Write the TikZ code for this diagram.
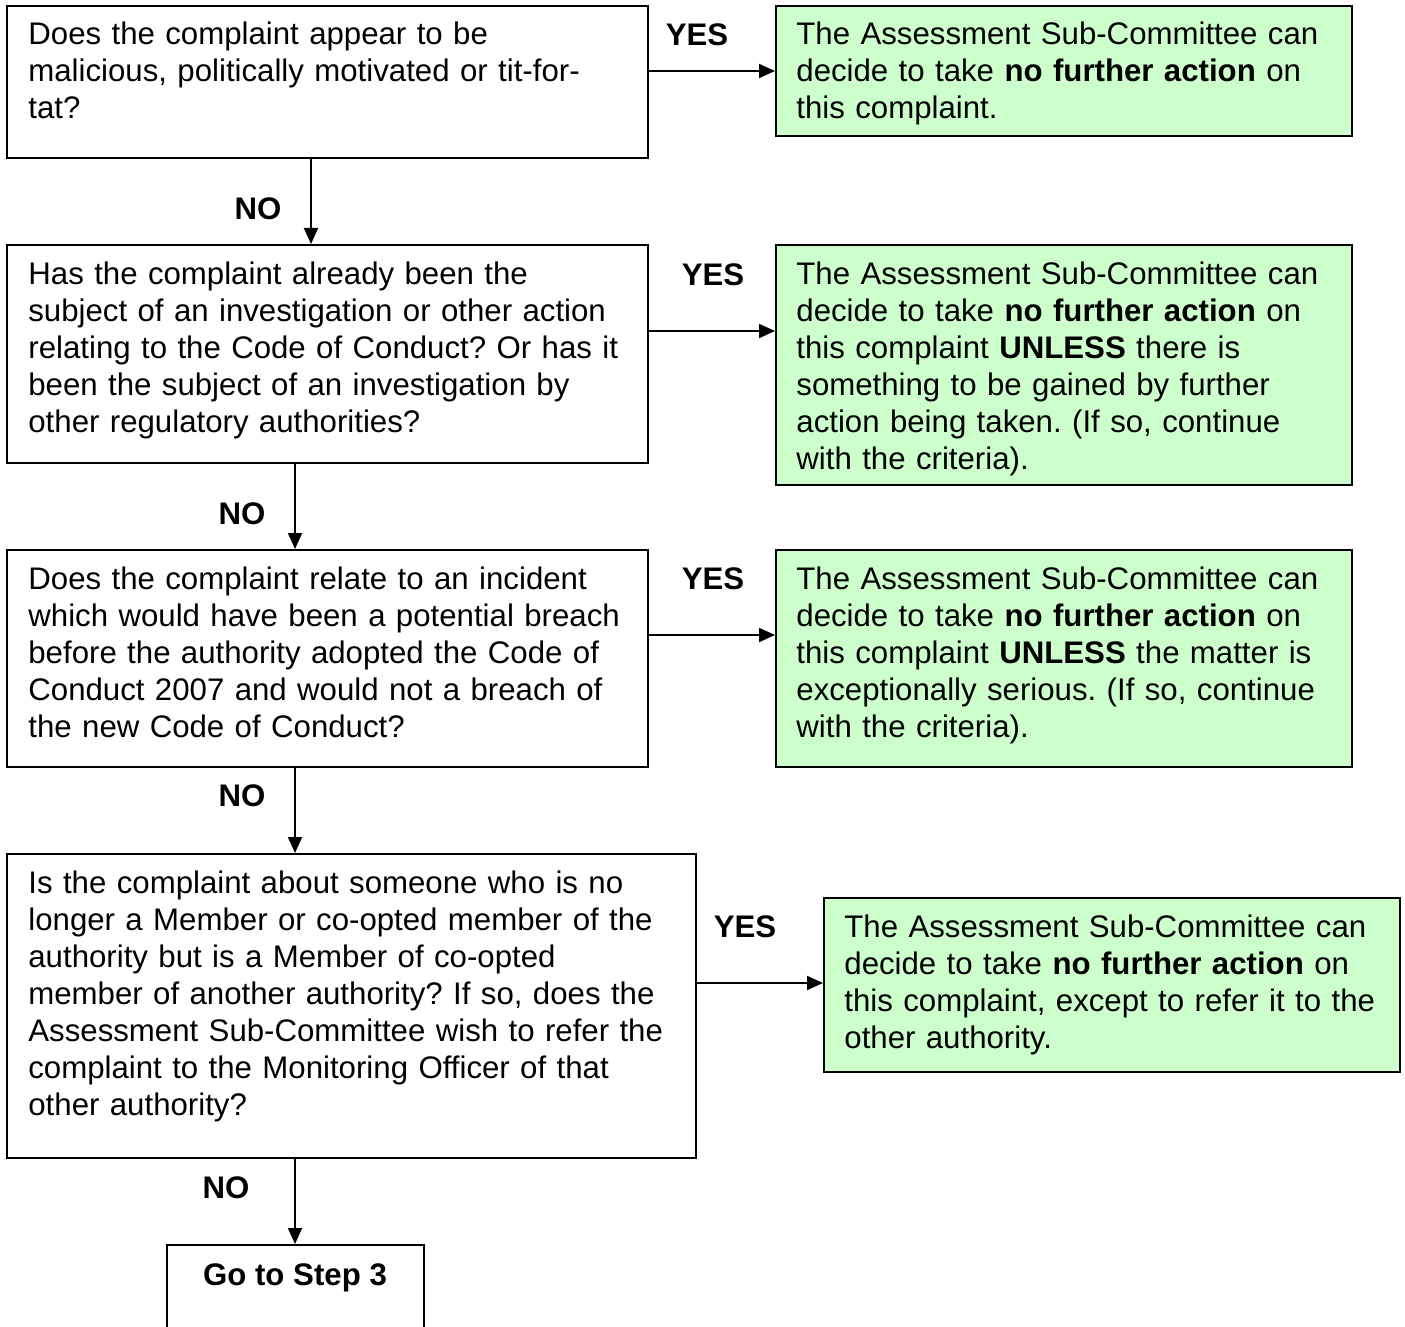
\documentclass[tikz,border=0pt]{standalone}
\usepackage{fontspec}
\setmainfont{Liberation Sans}
\usetikzlibrary{arrows.meta}
\definecolor{paleg}{HTML}{CCFFCC}
\frenchspacing
\begin{document}
\begin{tikzpicture}[x=0.5pt,y=-0.5pt,
  qbox/.style={draw=black,line width=1pt,fill=white,anchor=north west,inner sep=0pt},
  gbox/.style={draw=black,line width=1pt,fill=paleg,anchor=north west,inner sep=0pt},
  txt/.style={anchor=base west,inner sep=0pt,align=left,text width=#1,font=\fontsize{15.6pt}{18.5pt}\selectfont},
  lbl/.style={inner sep=0pt,font=\fontsize{15.6pt}{18.5pt}\selectfont\bfseries},
  arr/.style={line width=1pt,-{Triangle[length=8pt,width=7pt]}}]
\useasboundingbox (0,0) rectangle (1405,1327);
% question boxes
\node[qbox,minimum width=320.5pt,minimum height=76pt] (q1) at (6,5) {};
\node[qbox,minimum width=320.5pt,minimum height=109pt] (q2) at (6,244) {};
\node[qbox,minimum width=320.5pt,minimum height=108.5pt] (q3) at (6,549) {};
\node[qbox,minimum width=344.5pt,minimum height=152pt] (q4) at (6,853) {};
\node[qbox,minimum width=128.5pt,minimum height=50pt] (s3) at (166,1244) {};
% green boxes
\node[gbox,minimum width=288pt,minimum height=65pt] (g1) at (775,5) {};
\node[gbox,minimum width=288pt,minimum height=120pt] (g2) at (775,244) {};
\node[gbox,minimum width=288pt,minimum height=108.5pt] (g3) at (775,549) {};
\node[gbox,minimum width=288pt,minimum height=87pt] (g4) at (823,897) {};
% texts
\node[txt=320pt] (t1) at (28,45) {Does the complaint appear to be\\malicious, politically motivated or tit-for-\\tat?};
\node[txt=320pt] (t2) at (28,285) {Has the complaint already been the\\subject of an investigation or other action\\relating to the Code of Conduct? Or has it\\been the subject of an investigation by\\other regulatory authorities?};
\node[txt=320pt] (t3) at (28,589) {Does the complaint relate to an incident\\which would have been a potential breach\\before the authority adopted the Code of\\Conduct 2007 and would not a breach of\\the new Code of Conduct?};
\node[txt=340pt] (t4) at (28,893) {Is the complaint about someone who is no\\longer a Member or co-opted member of the\\authority but is a Member of co-opted\\member of another authority? If so, does the\\Assessment Sub-Committee wish to refer the\\complaint to the Monitoring Officer of that\\other authority?};
\node[txt=285pt] (u1) at (796,45) {The Assessment Sub-Committee can\\decide to take \textbf{no further action} on\\this complaint.};
\node[txt=285pt] (u2) at (796,285) {The Assessment Sub-Committee can\\decide to take \textbf{no further action} on\\this complaint \textbf{UNLESS} there is\\something to be gained by further\\action being taken. (If so, continue\\with the criteria).};
\node[txt=285pt] (u3) at (796,589) {The Assessment Sub-Committee can\\decide to take \textbf{no further action} on\\this complaint \textbf{UNLESS} the matter is\\exceptionally serious. (If so, continue\\with the criteria).};
\node[txt=285pt] (u4) at (844,937) {The Assessment Sub-Committee can\\decide to take \textbf{no further action} on\\this complaint, except to refer it to the\\other authority.};
\node[lbl] (t5) at (295,1278) {Go to Step 3};
% labels
\node[lbl] (y1) at (697,35) {YES};
\node[lbl] (y2) at (713,275) {YES};
\node[lbl] (y3) at (713,579) {YES};
\node[lbl] (y4) at (745,927) {YES};
\node[lbl] (n1) at (258,209) {NO};
\node[lbl] (n2) at (242,514) {NO};
\node[lbl] (n3) at (242,796) {NO};
\node[lbl] (n4) at (226,1188) {NO};
% connectors
\draw[arr] (q1.east |- 0,71) -- (g1.west |- 0,71);
\draw[arr] (q2.east |- 0,331) -- (g2.west |- 0,331);
\draw[arr] (q3.east |- 0,635) -- (g3.west |- 0,635);
\draw[arr] (q4.east |- 0,983) -- (g4.west |- 0,983);
\draw[arr] (q1.south -| 311,0) -- (q2.north -| 311,0);
\draw[arr] (q2.south -| 295,0) -- (q3.north -| 295,0);
\draw[arr] (q3.south -| 295,0) -- (q4.north -| 295,0);
\draw[arr] (q4.south -| 295,0) -- (s3.north -| 295,0);
\end{tikzpicture}
\end{document}
